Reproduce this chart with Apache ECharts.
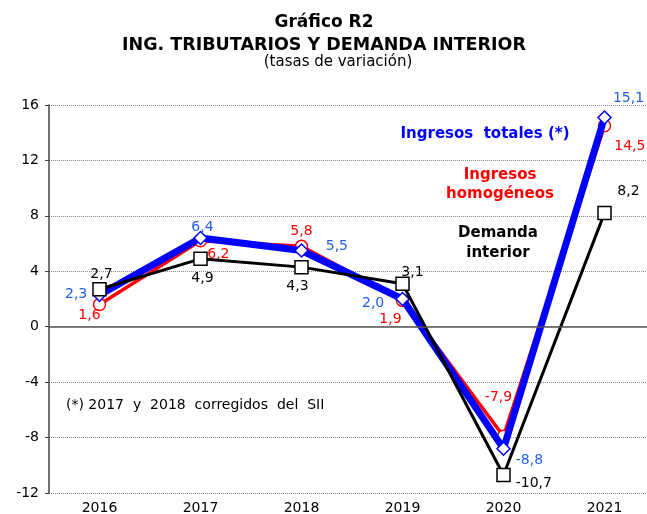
<!DOCTYPE html>
<html>
<head>
<meta charset="utf-8">
<script src="https://cdn.jsdelivr.net/npm/echarts@6/dist/echarts.min.js"></script>
<style>
    html, body { margin: 0; padding: 0; background: #fff; }
    #chart { width: 647px; height: 514px; }
</style>
</head>
<body>
<div id="chart"></div>
<script>
// datos
var years = ['2016', '2017', '2018', '2019', '2020', '2021'];
var ingTotales = [2.3, 6.4, 5.5, 2.0, -8.8, 15.1];
var ingHomog = [1.6, 6.2, 5.8, 1.9, -7.9, 14.5];
var demanda = [2.7, 4.9, 4.3, 3.1, -10.7, 8.2];

// posicion de cada etiqueta [position, offsetX, offsetY]
var posTotales = [['left', 0, 0], ['top', 2, 9], ['right', 12, -4], ['left', -6, 4], ['right', 0, 12], ['top', 24, 0]];
var posHomog = [['bottom', -10, -8], ['right', -5, 14], ['top', 0, 4], ['bottom', -12, 0], ['top', -5, -20], ['right', -2, 21]];
var posDemanda = [['top', 2, 4], ['bottom', 2, 0], ['bottom', -4, 0], ['top', 10, 8], ['right', 0, 8], ['top', 24, -2]];

function fmt(v) {
    return v.toFixed(1).replace('.', ',');
}

function buildData(values, pos, color) {
    return values.map(function (v, i) {
        return {
            value: v,
            label: {
                show: true,
                position: pos[i][0],
                offset: [pos[i][1], pos[i][2]],
                color: color,
                fontSize: 14,
                fontFamily: 'DejaVu Sans',
                formatter: function () { return fmt(v); }
            }
        };
    });
}

var myChart = echarts.init(document.getElementById('chart'));

var font = '"DejaVu Sans"';

var option = {
    animation: false,
    backgroundColor: '#fff',
    grid: {
        left: 49,
        top: 105,
        width: 606,
        height: 388,
        outerBoundsMode: 'none'
    },
    xAxis: {
        type: 'category',
        data: years,
        boundaryGap: true,
        axisLine: { show: false },
        axisTick: { show: false },
        axisLabel: { color: '#000', fontSize: 14, fontFamily: 'DejaVu Sans', margin: 8 }
    },
    yAxis: {
        type: 'value',
        min: -12,
        max: 16,
        interval: 4,
        axisLine: { show: true, lineStyle: { color: '#444', width: 1.5 } },
        axisTick: { show: true, length: 4, lineStyle: { color: '#444' } },
        axisLabel: { color: '#000', fontSize: 14, fontFamily: 'DejaVu Sans', margin: 10 },
        splitLine: { show: true, lineStyle: { color: '#888', type: 'dotted', width: 1 } }
    },
    graphic: [
        // titulos
        { type: 'text', x: 324, y: 23, style: { text: 'Gráfico R2', fill: '#000', font: 'bold 17px ' + font, textAlign: 'center', textVerticalAlign: 'middle' } },
        { type: 'text', x: 324, y: 45, style: { text: 'ING. TRIBUTARIOS Y DEMANDA INTERIOR', fill: '#000', font: 'bold 17.5px ' + font, textAlign: 'center', textVerticalAlign: 'middle' } },
        { type: 'text', x: 338, y: 62, style: { text: '(tasas de variación)', fill: '#000', font: '15px ' + font, textAlign: 'center', textVerticalAlign: 'middle' } },
        // leyendas
        { type: 'text', x: 485, y: 134, style: { text: 'Ingresos  totales (*)', fill: '#0000FF', font: 'bold 15px ' + font, textAlign: 'center', textVerticalAlign: 'middle' } },
        { type: 'text', x: 500, y: 175, style: { text: 'Ingresos', fill: '#FF0000', font: 'bold 15px ' + font, textAlign: 'center', textVerticalAlign: 'middle' } },
        { type: 'text', x: 500, y: 194, style: { text: 'homogéneos', fill: '#FF0000', font: 'bold 15px ' + font, textAlign: 'center', textVerticalAlign: 'middle' } },
        { type: 'text', x: 498, y: 233, style: { text: 'Demanda', fill: '#000', font: 'bold 15px ' + font, textAlign: 'center', textVerticalAlign: 'middle' } },
        { type: 'text', x: 498, y: 253, style: { text: 'interior', fill: '#000', font: 'bold 15px ' + font, textAlign: 'center', textVerticalAlign: 'middle' } },
        // nota
        { type: 'text', x: 66, y: 405, style: { text: '(*) 2017  y  2018  corregidos  del  SII', fill: '#000', font: '14px ' + font, textAlign: 'left', textVerticalAlign: 'middle' } }
    ],
    series: [{
        name: 'Ingresos homogéneos',
        type: 'line',
        data: buildData(ingHomog, posHomog, '#FF0000'),
        symbol: 'circle',
        symbolSize: 12,
        lineStyle: { color: '#FF0000', width: 3.5 },
        itemStyle: { color: '#fff', borderColor: '#FF0000', borderWidth: 1.5 },
        z: 2,
        markLine: {
            silent: true,
            symbol: 'none',
            label: { show: false },
            lineStyle: { color: '#555', type: 'solid', width: 1.5 },
            data: [{ yAxis: 0 }]
        }
    }, {
        name: 'Ingresos totales',
        type: 'line',
        data: buildData(ingTotales, posTotales, '#1F5FE0'),
        symbol: 'diamond',
        symbolSize: 13,
        lineStyle: { color: '#0000FF', width: 7 },
        itemStyle: { color: '#fff', borderColor: '#0000FF', borderWidth: 1.5 },
        z: 3
    }, {
        name: 'Demanda interior',
        type: 'line',
        data: buildData(demanda, posDemanda, '#000'),
        symbol: 'rect',
        symbolSize: 13,
        lineStyle: { color: '#000', width: 3 },
        itemStyle: { color: '#fff', borderColor: '#000', borderWidth: 1.5 },
        z: 4
    }]
};

myChart.setOption(option);
</script>
</body>
</html>
